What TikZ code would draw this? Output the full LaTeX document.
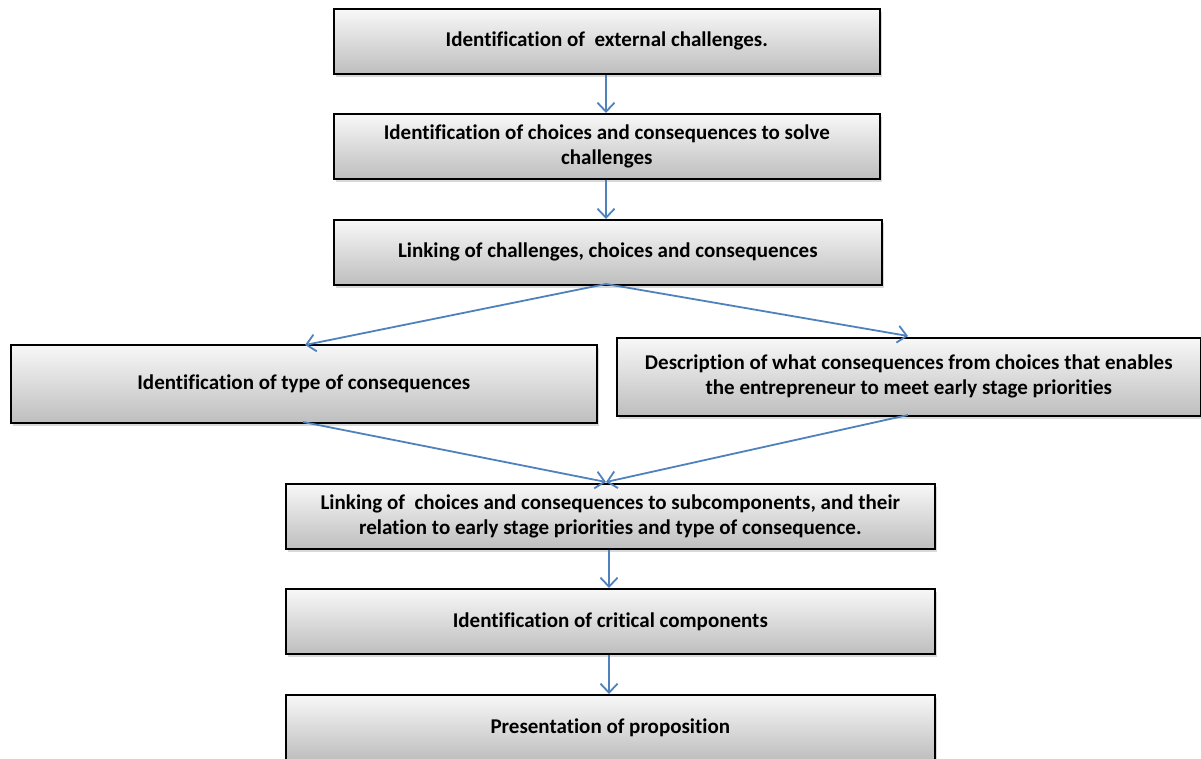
\documentclass[tikz,border=0pt]{standalone}
\usepackage{fontspec}
\setmainfont[Ligatures=NoCommon]{Carlito}
\usetikzlibrary{arrows.meta,shadows}
\definecolor{arrowblue}{RGB}{79,129,189}
\definecolor{boxtop}{RGB}{248,248,248}
\definecolor{boxbot}{RGB}{190,190,190}
\tikzset{
  flowbox/.style={draw=black, line width=1.6pt, top color=boxtop, bottom color=boxbot,
    anchor=north west, inner sep=0pt, align=center,
    font=\fontsize{21}{25}\selectfont\bfseries,
    drop shadow={shadow xshift=2pt, shadow yshift=-3pt, opacity=0.3, fill=gray}},
  flowarrow/.style={draw=arrowblue, line width=1.8pt,
    -{Straight Barb[length=9pt,width=17pt,line width=1.8pt]}}
}
\begin{document}
\begin{tikzpicture}[x=1pt,y=-1pt]
\useasboundingbox (0,0) rectangle (1201,758);
\begin{scope}
\clip (0,0) rectangle (1201,758);
\node[flowbox, minimum width=546pt, minimum height=65pt] (b1) at (333,8) {Identification of~~external challenges.};
\node[flowbox, minimum width=546pt, minimum height=65pt] (b2) at (333,113) {Identification of choices and consequences to solve\\challenges};
\node[flowbox, minimum width=548pt, minimum height=65pt] (b3) at (333,219) {Linking of challenges, choices and consequences};
\node[flowbox, minimum width=586pt, minimum height=78pt] (b4) at (10,344) {Identification of type of consequences};
\node[flowbox, minimum width=584pt, minimum height=78pt] (b5) at (616,337) {Description of what consequences from choices that enables\\the entrepreneur to meet early stage priorities};
\node[flowbox, minimum width=649pt, minimum height=65pt] (b6) at (285,483) {Linking of~ choices and consequences to subcomponents, and their\\relation to early stage priorities and type of consequence.};
\node[flowbox, minimum width=649pt, minimum height=65pt] (b7) at (285,588) {Identification of critical components};
\node[flowbox, minimum width=649pt, minimum height=65pt] (b8) at (285,694) {Presentation of proposition};
\coordinate (b3s) at (606,284);
\coordinate (b4n) at (305,345);
\coordinate (b5n) at (908,336);
\coordinate (b4s) at (303,422);
\coordinate (b5s) at (908,415);
\coordinate (b6n) at (606,482);
\draw[flowarrow] (b1.south -| 606,0) -- (b2.north -| 606,0);
\draw[flowarrow] (b2.south -| 606,0) -- (b3.north -| 606,0);
\draw[flowarrow] (b3s) -- (b4n);
\draw[flowarrow] (b3s) -- (b5n);
\draw[flowarrow] (b4s) -- (b6n);
\draw[flowarrow] (b5s) -- (b6n);
\draw[flowarrow] (b6.south -| 609,0) -- (b7.north -| 609,0);
\draw[flowarrow] (b7.south -| 609,0) -- (b8.north -| 609,0);
\end{scope}
\end{tikzpicture}
\end{document}
